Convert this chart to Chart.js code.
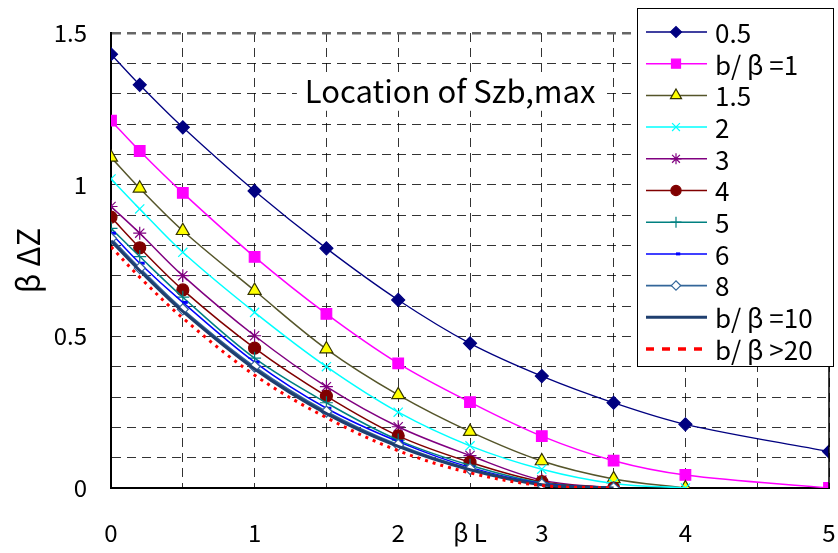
<!DOCTYPE html>
<html>
<head>
<meta charset="utf-8">
<script src="https://cdn.jsdelivr.net/npm/chart.js@4/dist/chart.umd.min.js"></script>
<style>
  html, body { margin: 0; padding: 0; background: #fff; }
  #wrap { width: 838px; height: 553px; position: relative; }
</style>
</head>
<body>
<div id="wrap"><canvas id="myChart"></canvas></div>
<script>
'use strict';

// beta*L positions of the computed points
let xVals = [0, 0.2, 0.5, 1, 1.5, 2, 2.5, 3, 3.5, 4, 5];

let labels = ['0.5', 'b/ β =1', '1.5', '2', '3', '4', '5', '6', '8', 'b/ β =10', 'b/ β >20'];

let s05 = [1.430, 1.329, 1.189, 0.979, 0.790, 0.620, 0.477, 0.369, 0.281, 0.210, 0.120];
let s1 = [1.211, 1.111, 0.973, 0.762, 0.574, 0.411, 0.283, 0.171, 0.090, 0.043, 0.0];
let s15 = [1.090, 0.988, 0.848, 0.651, 0.458, 0.307, 0.186, 0.089, 0.030, 0.0];
let s2 = [1.019, 0.920, 0.777, 0.579, 0.400, 0.250, 0.139, 0.062, 0.015, 0.0];
let s3 = [0.928, 0.840, 0.700, 0.502, 0.334, 0.202, 0.107, 0.026, 0.0];
let s4 = [0.893, 0.792, 0.653, 0.461, 0.303, 0.172, 0.085, 0.021, 0.0];
let s5 = [0.856, 0.763, 0.629, 0.428, 0.281, 0.158, 0.075, 0.017, 0.0];
let s6 = [0.840, 0.741, 0.612, 0.415, 0.263, 0.153, 0.068, 0.015, 0.0];
let s8 = [0.823, 0.725, 0.589, 0.400, 0.252, 0.142, 0.063, 0.012, 0.0];
let s10 = [0.815, 0.717, 0.582, 0.392, 0.245, 0.137, 0.060, 0.011, 0.0];
let s20 = [0.795, 0.695, 0.560, 0.372, 0.232, 0.123, 0.050, 0.008, 0.0];

let xTickLabels = { 0: '0', 1: '1', 2: '2', 2.5: 'β L', 3: '3', 4: '4', 5: '5' };
let yTickLabels = [0, 0.5, 1, 1.5];

let noteText = 'Location of Szb,max';

const FONT = "'Noto Sans CJK JP', 'Noto Sans', sans-serif";

function pts(arr) {
  let out = [];
  for (let i = 0; i < arr.length; i++) {
    out.push({ x: xVals[i], y: arr[i] });
  }
  return out;
}

let styles = [
  { color: '#000080', point: 'rectRot', r: 6.5, fill: '#000080', width: 1.3 },
  { color: '#ff00ff', point: 'rect', r: 7.5, fill: '#ff00ff', width: 1.5 },
  { color: '#55552a', point: 'triangle', r: 7.5, fill: '#ffff00', width: 1.5, pointBorder: '#333300' },
  { color: '#00ffff', point: 'crossRot', r: 6.5, fill: '#00ffff', width: 1.5 },
  { color: '#800080', point: 'star', r: 6.5, fill: '#800080', width: 1.5 },
  { color: '#800000', point: 'circle', r: 6, fill: '#800000', width: 1.5 },
  { color: '#008080', point: 'cross', r: 6.5, fill: '#008080', width: 1.5 },
  { color: '#0000ff', point: 'dash', r: 5, fill: '#0000ff', width: 1.5, pointWidth: 3 },
  { color: '#336699', point: 'rectRot', r: 5.5, fill: '#ffffff', width: 1.8 },
  { color: '#1f3f6f', point: false, r: 0, fill: '#1f3f6f', width: 3 },
  { color: '#ff0000', point: false, r: 0, fill: '#ff0000', width: 3, dash: [3, 5] }
];

let series = [s05, s1, s15, s2, s3, s4, s5, s6, s8, s10, s20];

let datasets = series.map(function (arr, i) {
  let st = styles[i];
  return {
    label: labels[i],
    data: pts(arr),
    borderColor: st.color,
    borderWidth: st.width,
    borderDash: st.dash || [],
    backgroundColor: st.fill,
    pointStyle: st.point,
    pointRadius: st.r,
    pointBackgroundColor: st.fill,
    pointBorderColor: st.pointBorder || st.color,
    pointBorderWidth: st.pointWidth || 1.2,
    tension: 0.35,
    fill: false,
    order: series.length - i
  };
});

// note text with white box, drawn over the grid
const notePlugin = {
  id: 'note',
  beforeDatasetsDraw(chart) {
    let ctx = chart.ctx;
    let xs = chart.scales.x, ys = chart.scales.y;
    let px = xs.getPixelForValue(1.35);
    let py = ys.getPixelForValue(1.27);
    ctx.save();
    ctx.font = '31px ' + FONT;
    let w = ctx.measureText(noteText).width;
    ctx.fillStyle = '#fff';
    ctx.fillRect(px - 8, py - 28, w + 16, 36);
    ctx.fillStyle = '#000';
    ctx.textBaseline = 'alphabetic';
    ctx.fillText(noteText, px, py);
    ctx.restore();
  },
  afterDatasetsDraw(chart) {
    let ctx = chart.ctx;
    let a = chart.chartArea;
    ctx.save();
    ctx.strokeStyle = '#000';
    ctx.lineWidth = 1.5;
    ctx.beginPath();
    ctx.moveTo(a.right, a.top);
    ctx.lineTo(a.right, a.bottom);
    ctx.stroke();
    ctx.restore();
  }
};

// legend box overlapping the upper right corner
const legendPlugin = {
  id: 'boxLegend',
  afterDraw(chart) {
    let ctx = chart.ctx;
    let left = 637, top = 8, right = 834, bottom = 367;
    ctx.save();
    ctx.fillStyle = '#fff';
    ctx.fillRect(left, top, right - left, bottom - top);
    ctx.strokeStyle = '#000';
    ctx.lineWidth = 1;
    ctx.strokeRect(left + 0.5, top + 0.5, right - left - 1, bottom - top - 1);
    chart.data.datasets.forEach(function (ds, i) {
      let y = 32 + i * 31.7;
      ctx.save();
      ctx.strokeStyle = ds.borderColor;
      ctx.lineWidth = ds.borderWidth;
      ctx.setLineDash(ds.borderDash.length ? [8, 8] : []);
      if (ds.borderDash.length) ctx.lineWidth = 3.5;
      ctx.beginPath();
      ctx.moveTo(646, y);
      ctx.lineTo(707, y);
      ctx.stroke();
      ctx.restore();
      if (ds.pointStyle) {
        ctx.save();
        ctx.fillStyle = ds.pointBackgroundColor;
        ctx.strokeStyle = ds.pointBorderColor;
        ctx.lineWidth = ds.pointBorderWidth;
        Chart.helpers.drawPoint(ctx, {
          pointStyle: ds.pointStyle,
          radius: ds.pointRadius * 0.85,
          rotation: 0,
          borderWidth: ds.pointBorderWidth
        }, 676, y);
        ctx.restore();
      }
      ctx.fillStyle = '#000';
      ctx.font = '26px ' + FONT;
      ctx.textBaseline = 'middle';
      ctx.fillText(ds.label, 715, y + 1);
    });
    ctx.restore();
  }
};

let ctx = document.getElementById('myChart').getContext('2d');
let myChart = new Chart(ctx, {
  type: 'line',
  data: { datasets: datasets },
  plugins: [notePlugin, legendPlugin],
  options: {
    responsive: true,
    maintainAspectRatio: false,
    devicePixelRatio: 1,
    animation: false,
    layout: { padding: { left: 0, right: 9, top: 33, bottom: 0 } },
    plugins: {
      legend: { display: false },
      tooltip: { enabled: false }
    },
    scales: {
      x: {
        type: 'linear',
        min: 0,
        max: 5,
        afterFit: function (scale) {
          scale.height = 65;
          scale.paddingLeft = 0;
          scale.paddingRight = 0;
        },
        afterBuildTicks: function (scale) {
          let t = [];
          for (let v = 0; v <= 10; v++) t.push({ value: v / 2 });
          scale.ticks = t;
        },
        ticks: {
          autoSkip: false,
          maxRotation: 0,
          padding: 30,
          color: '#000',
          font: { family: FONT, size: 24 },
          callback: function (v) {
            return xTickLabels[v] !== undefined ? xTickLabels[v] : '';
          }
        },
        grid: {
          drawTicks: false,
          color: 'rgba(0,0,0,0.8)',
          lineWidth: 1
        },
        border: { display: true, color: '#000', width: 2, dash: [9, 6] }
      },
      y: {
        type: 'linear',
        min: 0,
        max: 1.5,
        afterFit: function (scale) {
          scale.width = 111;
          scale.paddingTop = 0;
          scale.paddingBottom = 0;
        },
        afterBuildTicks: function (scale) {
          let t = [];
          for (let v = 0; v <= 15; v++) t.push({ value: v / 10 });
          scale.ticks = t;
        },
        ticks: {
          autoSkip: false,
          padding: 24,
          color: '#000',
          font: { family: FONT, size: 24 },
          callback: function (v) {
            let r = Math.round(v * 10) / 10;
            return yTickLabels.indexOf(r) >= 0 ? String(r) : '';
          }
        },
        grid: {
          drawTicks: false,
          color: function (c) {
            return c.tick && Math.abs(c.tick.value - 1.5) < 1e-6 ? '#666' : 'rgba(0,0,0,0.8)';
          },
          lineWidth: function (c) {
            return c.tick && Math.abs(c.tick.value - 1.5) < 1e-6 ? 2.5 : 1;
          }
        },
        border: { display: true, color: '#000', width: 2, dash: [9, 6] },
        title: {
          display: true,
          text: 'β ΔZ',
          color: '#000',
          font: { family: FONT, size: 31 },
          padding: { top: 10, bottom: 0 }
        }
      }
    }
  }
});
</script>
</body>
</html>
